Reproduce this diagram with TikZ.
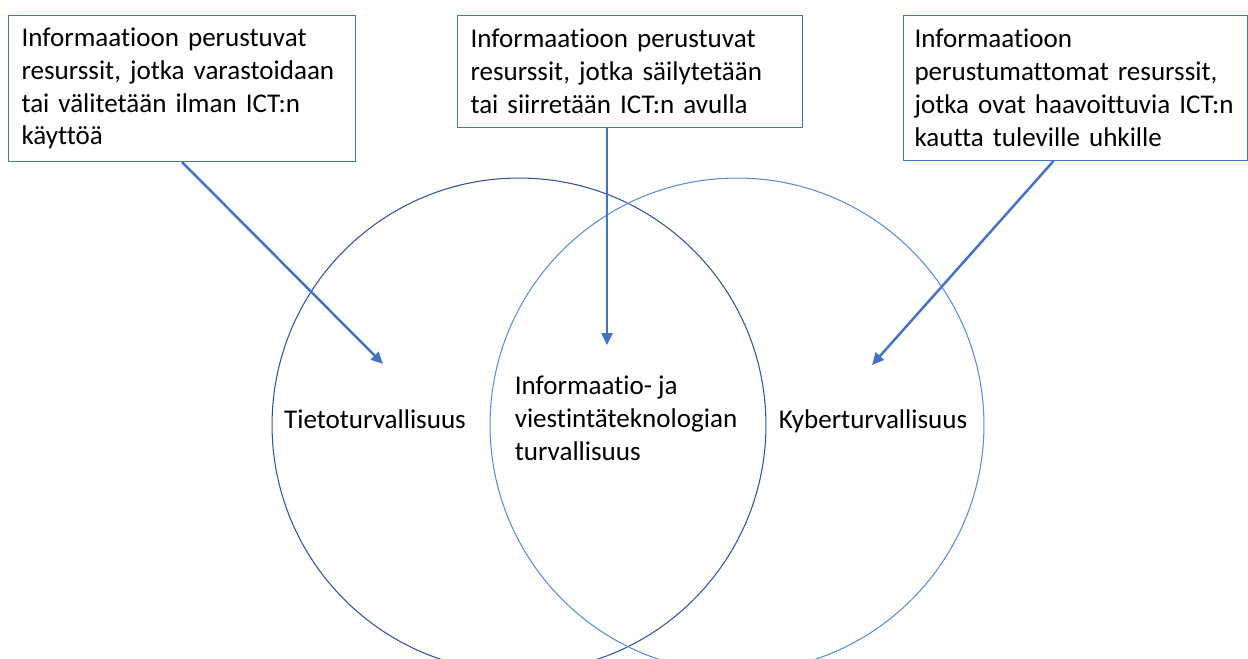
\documentclass[tikz,border=0pt]{standalone}
\usepackage{fontspec}
\setmainfont{Carlito}[Ligatures=NoCommon]
\usetikzlibrary{arrows.meta}
\definecolor{boxblue}{RGB}{68,114,196}
\definecolor{ringdark}{RGB}{47,85,151}
\definecolor{ringlight}{RGB}{91,140,214}
\tikzset{
  info/.style={draw=boxblue, line width=0.6pt, anchor=north west, align=left, inner xsep=0.26cm, inner ysep=0pt},
  pointer/.style={->, draw=boxblue, line width=1.4pt}
}
\begin{document}
\begin{tikzpicture}[x=0.02cm, y=-0.02cm, >={Triangle[length=2.4mm,width=2.2mm]}, font=\fontsize{15.4}{18.7}\selectfont, line join=round]
		\useasboundingbox (0,0) rectangle (1248,659);
		\clip (0,0) rectangle (1248,659);
		% rings
		\draw[ringdark, line width=0.6pt] (519,425) circle[radius=4.94cm];
		\draw[ringlight, line width=0.6pt] (737,425) circle[radius=4.94cm];
		\node[anchor=base] (tieto) at (375,428) {Tietoturvallisuus};
		\node[align=left] (ict) at (626,418) {Informaatio- ja\\viestintäteknologian\\turvallisuus};
		\node[anchor=base] (kyber) at (873,428) {Kyberturvallisuus};
		% boxes
		\node[info, text width=6.42cm, minimum height=2.92cm] (ilman) at (8,15) {Informaatioon perustuvat\\resurssit, jotka varastoidaan\\tai välitetään ilman ICT:n\\käyttöä};
		\node[info, text width=6.38cm, minimum height=2.24cm] (avulla) at (457,15) {Informaatioon perustuvat\\resurssit, jotka säilytetään\\tai siirretään ICT:n avulla};
		\node[info, inner xsep=0.22cm, text width=6.44cm, minimum height=2.9cm] (uhat) at (903,15) {Informaatioon\\perustumattomat resurssit,\\jotka ovat haavoittuvia ICT:n\\kautta tuleville uhkille};
		\coordinate (k1) at (383,364);
		\coordinate (k2) at (607,345);
		\coordinate (k3) at (872,365);
		\draw[pointer] (ilman.south) -- (k1);
		\draw[pointer] (avulla.south -| k2) -- (k2);
		\draw[pointer] ([xshift=-0.44cm]uhat.south) -- (k3);
\end{tikzpicture}
\end{document}
